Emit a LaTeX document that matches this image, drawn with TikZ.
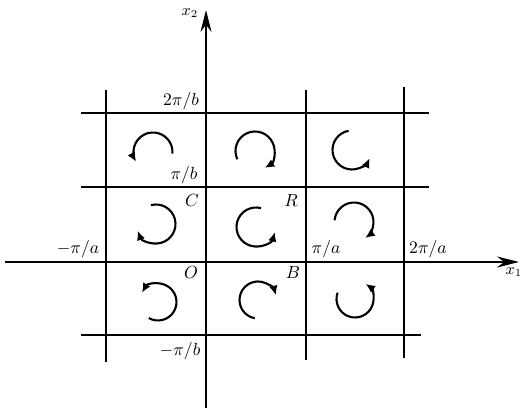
\documentclass[tikz,border=0pt]{standalone}
\usepackage{amsmath,amssymb}
\usepackage{tikz}
\usetikzlibrary{arrows.meta,positioning}
\tikzset{
  zonegrid/.style={line width=1.1pt},
  zoneaxis/.style={line width=1.1pt, -{Stealth[length=4.4mm,width=2.2mm]}},
  vortex/.style={line width=1.2pt, -{Latex[length=1.9mm,width=1.7mm]}},
  zonelabel/.style={inner sep=0pt},
}

\begin{document}
\begin{tikzpicture}[>=Latex]
      \useasboundingbox (-4.12,-2.94) rectangle (6.38,5.24);

      % axes
      \coordinate (x1start) at (-4.02,0);
      \coordinate (x1end) at (6.26,0);
      \coordinate (x2start) at (0,-2.92);
      \coordinate (x2end) at (0,5.04);
      \draw[zoneaxis] (x1start)--(x1end);
      \draw[zoneaxis] (x2start)--(x2end);
      \node[zonelabel, font=\small] (x1) at (6.16,-0.2) {$x_1$};
      \node[zonelabel, font=\small] (x2) at (-0.32,4.98) {$x_2$};

      % zone boundaries
      \draw[zonegrid] (-2,3.44)--(-2,-2.0);
      \draw[zonegrid] (2,3.44)--(2,-1.96);
      \draw[zonegrid] (3.96,3.5)--(3.96,-1.92);
      \draw[zonegrid] (-2.5,2.98)--(4.46,2.98);
      \draw[zonegrid] (-2.5,1.5)--(4.46,1.5);
      \draw[zonegrid] (-2.5,-1.46)--(4.3,-1.46);

      % labels
      \node[zonelabel] (tpb) at (-0.5,3.22) {$2\pi/b$};
      \node[zonelabel] (pb) at (-0.44,1.74) {$\pi/b$};
      \node[zonelabel] (mpb) at (-0.52,-1.78) {$-\pi/b$};
      \node[zonelabel] (mpa) at (-2.56,0.26) {$-\pi/a$};
      \node[zonelabel] (pa) at (2.4,0.26) {$\pi/a$};
      \node[zonelabel] (tpa) at (4.44,0.26) {$2\pi/a$};
      \node[zonelabel] (C) at (-0.28,1.22) {$C$};
      \node[zonelabel] (R) at (1.7,1.22) {$R$};
      \node[zonelabel] (O) at (-0.3,-0.22) {$O$};
      \node[zonelabel] (B) at (1.74,-0.22) {$B$};

      % circulation in each zone
      \draw[vortex] ([shift={(-5:0.39)}]-1.06,2.2) arc[start angle=-5, end angle=210, radius=0.39];
      \draw[vortex] ([shift={(205:0.39)}]0.98,2.22) arc[start angle=205, end angle=-60, radius=0.39];
      \draw[vortex] ([shift={(100:0.39)}]2.92,2.24) arc[start angle=100, end angle=335, radius=0.39];

      \draw[vortex] ([shift={(105:0.39)}]-1.0,0.76) arc[start angle=105, end angle=-160, radius=0.39];
      \draw[vortex] ([shift={(75:0.39)}]1.0,0.7) arc[start angle=75, end angle=345, radius=0.39];
      \draw[vortex] ([shift={(175:0.39)}]2.96,0.8) arc[start angle=175, end angle=-55, radius=0.39];

      \draw[vortex] ([shift={(-120:0.37)}]-0.96,-0.8) arc[start angle=-120, end angle=150, radius=0.37];
      \draw[vortex] ([shift={(260:0.37)}]1.04,-0.76) arc[start angle=260, end angle=15, radius=0.37];
      \draw[vortex] ([shift={(160:0.37)}]2.98,-0.74) arc[start angle=160, end angle=415, radius=0.37];
    \end{tikzpicture}
\end{document}
